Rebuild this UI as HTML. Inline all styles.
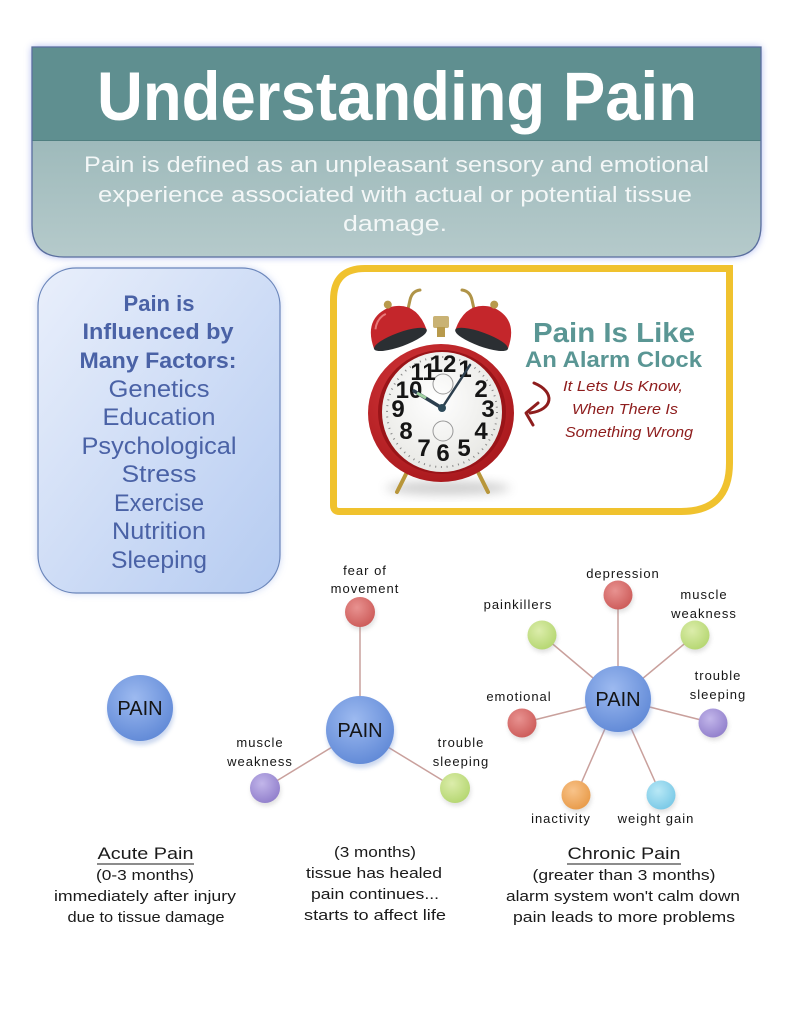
<!DOCTYPE html>
<html><head><meta charset="utf-8">
<style>
html,body{margin:0;padding:0;background:#fff;}
svg{display:block;}
text{font-family:"Liberation Sans",Arial,sans-serif;}
</style></head>
<body>
<svg width="791" height="1024" viewBox="0 0 791 1024" xmlns="http://www.w3.org/2000/svg">
<defs>
  <filter id="glow" x="-10%" y="-10%" width="120%" height="130%"><feGaussianBlur stdDeviation="4"/></filter>
  <filter id="soft" x="-20%" y="-20%" width="140%" height="140%"><feGaussianBlur stdDeviation="2"/></filter>
  <filter id="sh" x="-50%" y="-50%" width="200%" height="200%"><feGaussianBlur stdDeviation="5"/></filter>
  <linearGradient id="hdrLow" x1="0" y1="0" x2="0" y2="1">
    <stop offset="0" stop-color="#8cadae"/><stop offset="1" stop-color="#b5cacb"/>
  </linearGradient>
  <linearGradient id="boxL" x1="0" y1="0" x2="1" y2="1">
    <stop offset="0" stop-color="#e9effb"/><stop offset="1" stop-color="#b5cbf1"/>
  </linearGradient>
  <radialGradient id="gPain" cx="0.42" cy="0.35" r="0.7">
    <stop offset="0" stop-color="#9dbaf0"/><stop offset="1" stop-color="#5f88d6"/>
  </radialGradient>
  <radialGradient id="gRed" cx="0.4" cy="0.35" r="0.7">
    <stop offset="0" stop-color="#e89290"/><stop offset="1" stop-color="#cc5a58"/>
  </radialGradient>
  <radialGradient id="gGreen" cx="0.4" cy="0.35" r="0.7">
    <stop offset="0" stop-color="#dcedab"/><stop offset="1" stop-color="#b4d670"/>
  </radialGradient>
  <radialGradient id="gPurple" cx="0.4" cy="0.35" r="0.7">
    <stop offset="0" stop-color="#c2b6ea"/><stop offset="1" stop-color="#907ecb"/>
  </radialGradient>
  <radialGradient id="gOrange" cx="0.4" cy="0.35" r="0.7">
    <stop offset="0" stop-color="#f8c38a"/><stop offset="1" stop-color="#e89a48"/>
  </radialGradient>
  <radialGradient id="gCyan" cx="0.4" cy="0.35" r="0.7">
    <stop offset="0" stop-color="#b8e8f6"/><stop offset="1" stop-color="#78c8e6"/>
  </radialGradient>
  <radialGradient id="gFace" cx="0.45" cy="0.4" r="0.65">
    <stop offset="0" stop-color="#ffffff"/><stop offset="1" stop-color="#e6e6e2"/>
  </radialGradient>
  <radialGradient id="gRing" cx="0.4" cy="0.35" r="0.7">
    <stop offset="0" stop-color="#d8393c"/><stop offset="1" stop-color="#a8181c"/>
  </radialGradient>
</defs>

<!-- HEADER -->
<path d="M32,47 H761 V225 Q761,257 729,257 H64 Q32,257 32,225 Z" fill="#7e90e6" opacity="0.7" filter="url(#glow)"/>
<path d="M32,47 H761 V225 Q761,257 729,257 H64 Q32,257 32,225 Z" fill="url(#hdrLow)"/>
<rect x="32" y="47" width="729" height="93" fill="#5f8f90"/>
<line x1="32" y1="140.5" x2="761" y2="140.5" stroke="#507f80" stroke-width="1"/>
<path d="M32,47 H761 V225 Q761,257 729,257 H64 Q32,257 32,225 Z" fill="none" stroke="#5a6e9e" stroke-width="1.3"/>
<text x="397" y="120" font-size="69" font-weight="bold" fill="#ffffff" text-anchor="middle" textLength="600" lengthAdjust="spacingAndGlyphs">Understanding Pain</text>
<text x="396.5" y="172" font-size="22" fill="#f3f7f7" text-anchor="middle" textLength="625" lengthAdjust="spacingAndGlyphs">Pain is defined as an unpleasant sensory and emotional</text>
<text x="395" y="202" font-size="22" fill="#f3f7f7" text-anchor="middle" textLength="594" lengthAdjust="spacingAndGlyphs">experience associated with actual or potential tissue</text>
<text x="395" y="231" font-size="22" fill="#f3f7f7" text-anchor="middle" textLength="104" lengthAdjust="spacingAndGlyphs">damage.</text>

<!-- LEFT FACTORS BOX -->
<rect x="38" y="268" width="242" height="325" rx="38" fill="#9fb4ea" opacity="0.6" filter="url(#glow)"/>
<rect x="38" y="268" width="242" height="325" rx="38" fill="url(#boxL)" stroke="#6b86ba" stroke-width="1.2"/>
<g fill="#4a62a6" text-anchor="middle">
  <text x="159" y="311" font-size="22" font-weight="bold">Pain is</text>
  <text x="158" y="339" font-size="22" font-weight="bold" textLength="151" lengthAdjust="spacingAndGlyphs">Influenced by</text>
  <text x="158" y="368" font-size="22" font-weight="bold" textLength="157" lengthAdjust="spacingAndGlyphs">Many Factors:</text>
  <text x="159" y="397" font-size="24" textLength="101" lengthAdjust="spacingAndGlyphs">Genetics</text>
  <text x="159" y="425" font-size="24" textLength="113" lengthAdjust="spacingAndGlyphs">Education</text>
  <text x="159" y="454" font-size="24" textLength="155" lengthAdjust="spacingAndGlyphs">Psychological</text>
  <text x="159" y="482" font-size="24" textLength="75" lengthAdjust="spacingAndGlyphs">Stress</text>
  <text x="159" y="511" font-size="24" textLength="90" lengthAdjust="spacingAndGlyphs">Exercise</text>
  <text x="159" y="539" font-size="24" textLength="94" lengthAdjust="spacingAndGlyphs">Nutrition</text>
  <text x="159" y="568" font-size="24" textLength="96" lengthAdjust="spacingAndGlyphs">Sleeping</text>
</g>

<!-- YELLOW CLOCK BOX -->
<path d="M333.5,300 Q333.5,268.5 365,268.5 H729.5 V463 Q729.5,511.5 681,511.5 H339.5 Q333.5,511.5 333.5,505.5 Z" fill="#ffffff" stroke="#f0c22e" stroke-width="7"/>

<!-- clock -->
<ellipse cx="448" cy="488" rx="62" ry="7" fill="#999" opacity="0.45" filter="url(#sh)"/>
<g stroke="#b8963a" stroke-width="4" stroke-linecap="round" fill="none">
  <line x1="408" y1="470" x2="397" y2="492"/>
  <line x1="477" y1="470" x2="488" y2="492"/>
</g>
<g stroke="#b09448" stroke-width="3" fill="none" stroke-linecap="round">
  <path d="M400,345 L410,300 Q412,291 420,290"/>
  <path d="M482,345 L472,300 Q470,291 462,290"/>
</g>
<g transform="rotate(-20 397 330)">
  <path d="M369,340 Q369,308 397,306 Q425,308 425,340 Z" fill="#c4262b"/>
  <ellipse cx="397" cy="340" rx="28" ry="7" fill="#2b2f33"/>
  <path d="M377,322 Q382,312 392,311" stroke="#e87a7a" stroke-width="2" fill="none"/>
  <circle cx="397" cy="303" r="4" fill="#b89a4c"/>
</g>
<g transform="rotate(20 485 330)">
  <path d="M457,340 Q457,308 485,306 Q513,308 513,340 Z" fill="#c4262b"/>
  <ellipse cx="485" cy="340" rx="28" ry="7" fill="#2b2f33"/>
  <circle cx="485" cy="303" r="4" fill="#b89a4c"/>
</g>
<rect x="433" y="316" width="16" height="12" rx="2" fill="#c9b274"/>
<rect x="437" y="327" width="8" height="10" fill="#b89a4c"/>
<ellipse cx="441" cy="413" rx="73" ry="69" fill="url(#gRing)"/>
<ellipse cx="442" cy="412" rx="64" ry="62" fill="#9a1418"/>
<circle cx="442" cy="412" r="60" fill="url(#gFace)"/>
<circle cx="442" cy="412" r="55" fill="none" stroke="#888" stroke-width="2" stroke-dasharray="1 4.76"/>
<circle cx="443" cy="384" r="10" fill="none" stroke="#999" stroke-width="1"/>
<circle cx="443" cy="431" r="10" fill="none" stroke="#999" stroke-width="1"/>
<g font-family="'Liberation Serif',serif" font-weight="bold" font-size="24" fill="#151515" text-anchor="middle">
  <text x="443" y="372">12</text>
  <text x="465" y="377">1</text>
  <text x="481" y="397">2</text>
  <text x="488" y="417">3</text>
  <text x="481" y="439">4</text>
  <text x="464" y="456">5</text>
  <text x="443" y="461">6</text>
  <text x="424" y="456">7</text>
  <text x="406" y="439">8</text>
  <text x="398" y="417">9</text>
  <text x="409" y="398">10</text>
  <text x="423" y="380">11</text>
</g>
<line x1="442" y1="408" x2="470" y2="365" stroke="#2d3f4e" stroke-width="2.5" stroke-linecap="round"/>
<line x1="442" y1="408" x2="414" y2="391" stroke="#2d3f4e" stroke-width="3.5" stroke-linecap="round"/>
<line x1="426" y1="398" x2="417" y2="393" stroke="#9fd0a0" stroke-width="3"/>
<circle cx="442" cy="408" r="4" fill="#2d4a5a"/>

<!-- clock text -->
<text x="614" y="342" font-size="28" font-weight="bold" fill="#5a9694" text-anchor="middle" textLength="162" lengthAdjust="spacingAndGlyphs">Pain Is Like</text>
<text x="613.5" y="367" font-size="22" font-weight="bold" fill="#5a9694" text-anchor="middle" textLength="177" lengthAdjust="spacingAndGlyphs">An Alarm Clock</text>
<g font-family="'DejaVu Serif','Liberation Serif',serif" font-style="italic" font-size="15" fill="#8e1d1d">
  <text x="563" y="391" textLength="120" lengthAdjust="spacingAndGlyphs">It Lets Us Know,</text>
  <text x="572" y="414" textLength="106" lengthAdjust="spacingAndGlyphs">When There Is</text>
  <text x="565" y="437" textLength="128" lengthAdjust="spacingAndGlyphs">Something Wrong</text>
</g>
<path d="M534,383 C556,392 553,410 530,413" stroke="#8e1d1d" stroke-width="3" fill="none" stroke-linecap="round"/>
<path d="M538,403 L526,413 L533,425" stroke="#8e1d1d" stroke-width="3" fill="none" stroke-linecap="round" stroke-linejoin="round"/>

<!-- CONNECTORS -->
<g stroke="#c9a09c" stroke-width="1.5">
  <line x1="360" y1="730" x2="360" y2="612"/>
  <line x1="360" y1="730" x2="265" y2="788"/>
  <line x1="360" y1="730" x2="455" y2="788"/>
  <line x1="618" y1="699" x2="618" y2="595"/>
  <line x1="618" y1="699" x2="542" y2="635"/>
  <line x1="618" y1="699" x2="695" y2="635"/>
  <line x1="618" y1="699" x2="522" y2="723"/>
  <line x1="618" y1="699" x2="713" y2="723"/>
  <line x1="618" y1="699" x2="576" y2="795"/>
  <line x1="618" y1="699" x2="661" y2="795"/>
</g>

<!-- NODES -->
<g>
  <circle cx="141" cy="712" r="33" fill="#6d8fd0" opacity="0.35" filter="url(#soft)"/>
  <circle cx="140" cy="708" r="33" fill="url(#gPain)"/>
  <circle cx="361" cy="734" r="34" fill="#6d8fd0" opacity="0.35" filter="url(#soft)"/>
  <circle cx="360" cy="730" r="34" fill="url(#gPain)"/>
  <circle cx="619" cy="703" r="33" fill="#6d8fd0" opacity="0.35" filter="url(#soft)"/>
  <circle cx="618" cy="699" r="33" fill="url(#gPain)"/>

  <g fill="#888" opacity="0.25" filter="url(#soft)">
    <circle cx="361" cy="615" r="15"/>
    <circle cx="266" cy="791" r="15"/>
    <circle cx="456" cy="791" r="15"/>
    <circle cx="619" cy="598" r="14.5"/>
    <circle cx="543" cy="638" r="14.5"/>
    <circle cx="696" cy="638" r="14.5"/>
    <circle cx="523" cy="726" r="14.5"/>
    <circle cx="714" cy="726" r="14.5"/>
    <circle cx="577" cy="798" r="14.5"/>
    <circle cx="662" cy="798" r="14.5"/>
  </g>

  <circle cx="360" cy="612" r="15" fill="url(#gRed)"/>
  <circle cx="265" cy="788" r="15" fill="url(#gPurple)"/>
  <circle cx="455" cy="788" r="15" fill="url(#gGreen)"/>

  <circle cx="618" cy="595" r="14.5" fill="url(#gRed)"/>
  <circle cx="542" cy="635" r="14.5" fill="url(#gGreen)"/>
  <circle cx="695" cy="635" r="14.5" fill="url(#gGreen)"/>
  <circle cx="522" cy="723" r="14.5" fill="url(#gRed)"/>
  <circle cx="713" cy="723" r="14.5" fill="url(#gPurple)"/>
  <circle cx="576" cy="795" r="14.5" fill="url(#gOrange)"/>
  <circle cx="661" cy="795" r="14.5" fill="url(#gCyan)"/>
</g>
<g font-size="20" fill="#141414" text-anchor="middle">
  <text x="140" y="715">PAIN</text>
  <text x="360" y="737">PAIN</text>
  <text x="618" y="706">PAIN</text>
</g>

<!-- LABELS -->
<g font-size="13" fill="#151515" text-anchor="middle" letter-spacing="1">
  <text x="365" y="575">fear of</text>
  <text x="365" y="593">movement</text>
  <text x="260" y="747">muscle</text>
  <text x="260" y="766">weakness</text>
  <text x="461" y="747">trouble</text>
  <text x="461" y="766">sleeping</text>

  <text x="623" y="578">depression</text>
  <text x="518" y="609">painkillers</text>
  <text x="704" y="599">muscle</text>
  <text x="704" y="618">weakness</text>
  <text x="718" y="680">trouble</text>
  <text x="718" y="699">sleeping</text>
  <text x="519" y="701">emotional</text>
  <text x="561" y="823">inactivity</text>
  <text x="656" y="823">weight gain</text>
</g>

<!-- BOTTOM TEXT -->
<g font-size="15" fill="#1a1a1a" text-anchor="middle">
  <text x="145.5" y="859" font-size="17" textLength="96" lengthAdjust="spacingAndGlyphs">Acute Pain</text>
  <line x1="97" y1="864" x2="194" y2="864" stroke="#1a1a1a" stroke-width="1"/>
  <text x="145" y="880" textLength="98" lengthAdjust="spacingAndGlyphs">(0-3 months)</text>
  <text x="145" y="901" textLength="182" lengthAdjust="spacingAndGlyphs">immediately after injury</text>
  <text x="146" y="922" textLength="157" lengthAdjust="spacingAndGlyphs">due to tissue damage</text>

  <text x="375" y="857" textLength="82" lengthAdjust="spacingAndGlyphs">(3 months)</text>
  <text x="374" y="878" textLength="136" lengthAdjust="spacingAndGlyphs">tissue has healed</text>
  <text x="375" y="899" textLength="128" lengthAdjust="spacingAndGlyphs">pain continues...</text>
  <text x="375" y="920" textLength="142" lengthAdjust="spacingAndGlyphs">starts to affect life</text>

  <text x="624" y="859" font-size="17" textLength="113" lengthAdjust="spacingAndGlyphs">Chronic Pain</text>
  <line x1="567" y1="864" x2="681" y2="864" stroke="#1a1a1a" stroke-width="1"/>
  <text x="624" y="880" textLength="183" lengthAdjust="spacingAndGlyphs">(greater than 3 months)</text>
  <text x="623" y="901" textLength="234" lengthAdjust="spacingAndGlyphs">alarm system won't calm down</text>
  <text x="624" y="922" textLength="222" lengthAdjust="spacingAndGlyphs">pain leads to more problems</text>
</g>
</svg>
</body></html>
